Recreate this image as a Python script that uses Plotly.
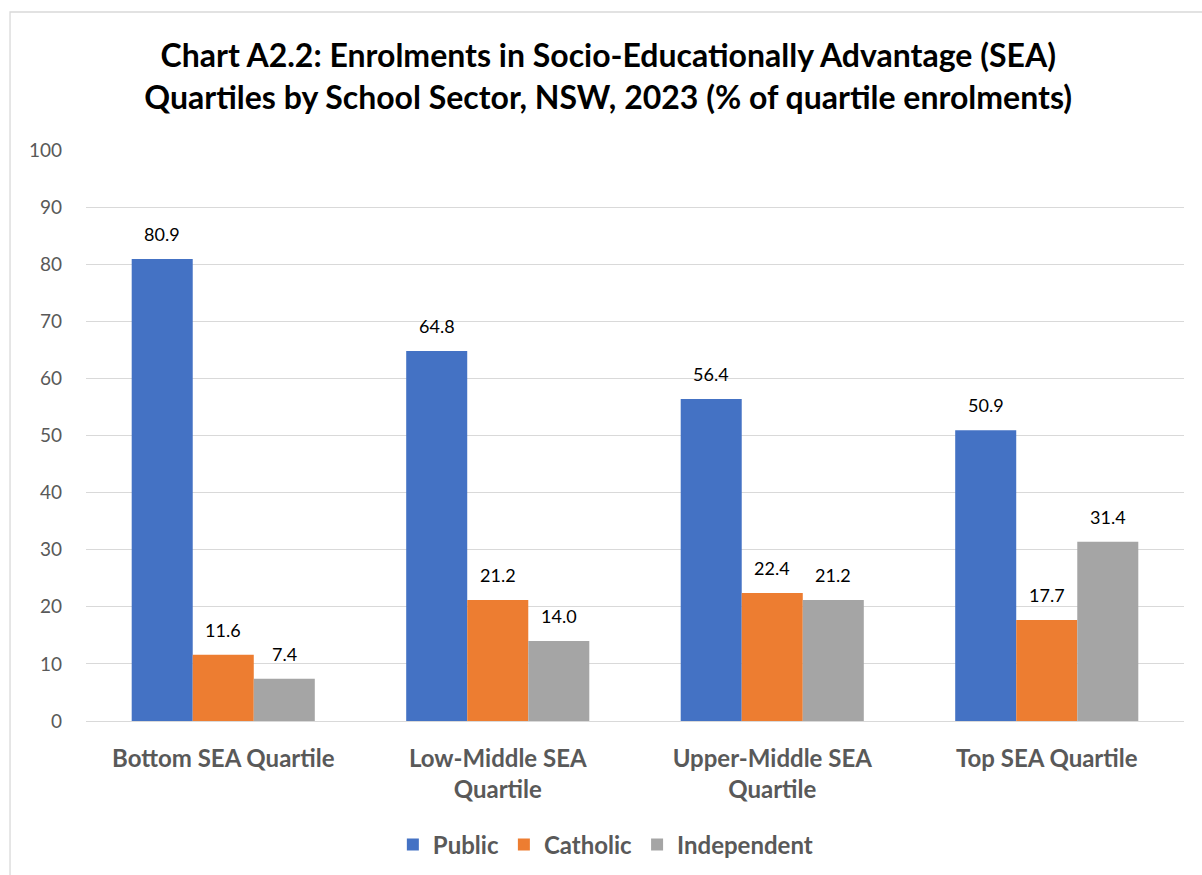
import plotly.graph_objects as go

categories = ["Bottom SEA Quartile", "Low-Middle SEA<br>Quartile", "Upper-Middle SEA<br>Quartile", "Top SEA Quartile"]
public = [80.9, 64.8, 56.4, 50.9]
catholic = [11.6, 21.2, 22.4, 17.7]
independent = [7.4, 14.0, 21.2, 31.4]
tick_vals = [0, 10, 20, 30, 40, 50, 60, 70, 80, 90, 100]

series = [("Public", public, "#4472C4"), ("Catholic", catholic, "#ED7D31"), ("Independent", independent, "#A5A5A5")]

FONT = "Lato, 'Open Sans', sans-serif"
fig = go.Figure()
BAR_PX = 61
for i, (name, vals, col) in enumerate(series):
    fig.add_trace(go.Bar(
        x=categories, y=vals, name=name, marker=dict(color=col, line=dict(width=0)),
    ))
    for c, v in zip(categories, vals):
        fig.add_annotation(x=c, y=v, xref="x", yref="y", text=f"{v:.1f}", showarrow=False,
                           xshift=(i - 1) * BAR_PX, yshift=12, yanchor="bottom",
                           font=dict(family=FONT, size=18, color="#000000"))

fig.update_layout(
    width=1202, height=875,
    margin=dict(l=86, r=18, t=150, b=154, autoexpand=False),
    paper_bgcolor="white", plot_bgcolor="white",
    barmode="group", bargap=0.333, bargroupgap=0,
    title=dict(text="<b>Chart A2.2: Enrolments in Socio-Educationally Advantage (SEA)<br>Quartiles by School Sector, NSW, 2023 (% of quartile enrolments)</b>",
               x=0.506, xanchor="center", y=0.923, yanchor="middle",
               font=dict(family=FONT, size=32, color="#000000")),
    yaxis=dict(range=[0, 100], tickvals=tick_vals, showgrid=True, gridcolor="#D9D9D9", gridwidth=1.3,
               zeroline=False, showline=False, ticks="", ticklabelstandoff=23, automargin=False,
               tickfont=dict(family=FONT, size=19, color="#595959")),
    xaxis=dict(showline=True, linecolor="#D9D9D9", linewidth=1.3, ticks="", ticklabelstandoff=16, automargin=False,
               tickfont=dict(family=FONT, size=24, color="#595959", weight="bold")),
    legend=dict(orientation="h", x=0.473, xanchor="center", y=-0.217, yanchor="middle",
                font=dict(family=FONT, size=24, color="#595959", weight="bold"),
                itemwidth=30, traceorder="normal"),
)
fig.add_shape(type="rect", xref="paper", yref="paper", x0=-0.0692, y0=-0.4, x1=1.1, y1=1.2417,
              line=dict(color="#D9D9D9", width=1.3), fillcolor="rgba(0,0,0,0)", layer="below")
fig.write_html("out.html")
